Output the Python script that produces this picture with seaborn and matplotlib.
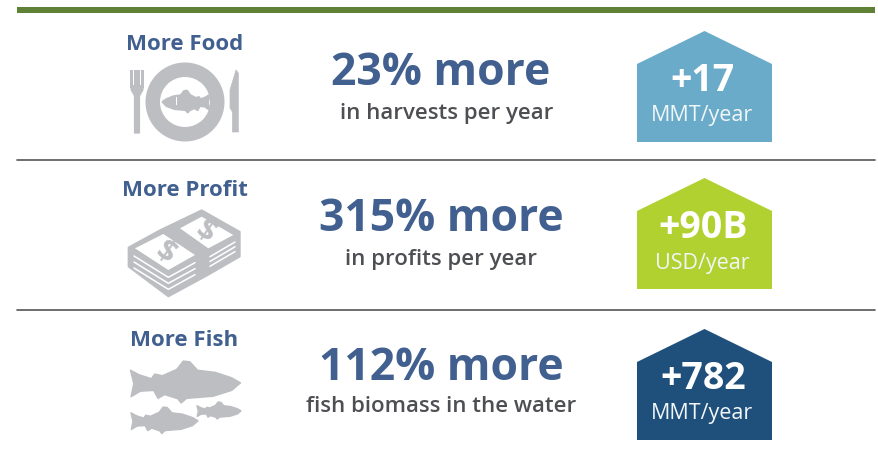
import matplotlib
matplotlib.use("Agg")
import matplotlib.pyplot as plt
from matplotlib.patches import Polygon, Circle, FancyBboxPatch
import numpy as np
import pandas as pd
import seaborn as sns

sns.set_theme(style="white")
plt.rcParams['font.family'] = ['Open Sans', 'DejaVu Sans']

# Chart content
titles = ["More Food", "More Profit", "More Fish"]
headlines = ["23% more", "315% more", "112% more"]
subtitles = ["in harvests per year", "in profits per year", "fish biomass in the water"]
badge_values = ["+17", "+90B", "+782"]
badge_units = ["MMT/year", "USD/year", "MMT/year"]
badge_colors = ["#69abc9", "#b0d12f", "#1f507c"]

# Layout, in pixels of the 879x457 picture
title_y = [44, 191, 340]
headline_y = [73.5, 219.5, 368.5]
subtitle_y = [113, 260, 407]
subtitle_x = [447, 441, 441]
badge_top = [31, 178, 329]
rule_y = [160, 310]

BLUE = "#41608f"
GREY = "#bcbec2"
TEXT = "#4d4f53"

fig = plt.figure(figsize=(8.79, 4.57), dpi=100)
ax = fig.add_axes([0, 0, 1, 1])


def draw_badge(top, color, value, unit):
    """House shaped badge with the value and its unit"""
    left, right = 637, 772
    pts = [(left, top + 33), ((left + right) / 2, top), (right, top + 33),
           (right, top + 111), (left, top + 111)]
    ax.add_patch(Polygon(pts, closed=True, facecolor=color, edgecolor="none"))
    ax.text(703, top + 50, value, color="white", fontsize=27, fontweight="bold",
            ha="center", va="center")
    ax.text(702, top + 85, unit, color="#f1f6f8", fontsize=15.5, ha="center", va="center")


def draw_food():
    # fork
    ax.add_patch(FancyBboxPatch((134.5, 90), 5, 43, boxstyle="round,pad=0.6", fc=GREY, ec="none"))
    for x in [130.5, 134, 137.5, 141]:
        ax.add_patch(Polygon([(x, 70), (x + 2.6, 70), (x + 2.6, 88), (x, 88)], fc=GREY, ec="none"))
    ax.add_patch(Polygon([(130.5, 85), (143.6, 85), (143.6, 90), (139.5, 97), (134.5, 97), (130.5, 90)],
                         fc=GREY, ec="none"))
    # plate
    ax.add_patch(Circle((185, 102), 39.5, fc=GREY, ec="none"))
    ax.add_patch(Circle((185, 102), 25, fc="white", ec="none"))
    draw_fish(163, 209, 91, 112, flip=True, fat=True)
    ax.add_patch(Polygon([(176, 97), (177, 97), (177, 105), (176, 105)], fc="white", ec="none"))
    # knife
    ax.add_patch(Polygon([(236, 70), (238.3, 73), (238.3, 132), (232.5, 132), (232.5, 112),
                          (230, 108), (230, 90)], fc=GREY, ec=GREY, lw=0.5, joinstyle="round"))


def draw_money():
    def to_px(pts):
        return [(100 + x / 3, 160 + y / 3) for x, y in pts]

    outline = [(85, 262), (180, 210), (305, 150), (420, 215), (420, 290), (325, 345),
               (205, 410), (85, 320)]
    ax.add_patch(Polygon(to_px(outline), fc=GREY, ec=GREY, lw=1, joinstyle="round"))
    ax.add_patch(Polygon(to_px([(105, 265), (190, 222), (285, 285), (205, 330)]), fc="white", ec="none"))
    ax.add_patch(Polygon(to_px([(240, 205), (305, 170), (400, 225), (325, 265)]), fc="white", ec="none"))
    # note edges along the sides of the stack
    for off in [0, 18, 36]:
        ax.plot(*zip(*to_px([(102, 288 + off), (205, 352 + off), (285, 308 + off)])),
                color="white", lw=1.1)
        ax.plot(*zip(*to_px([(330, 290 + off * 0.8), (405, 246 + off * 0.8)])),
                color="white", lw=1.1)
    ax.text(165.5, 253, "$", color=GREY, fontsize=22, fontweight="bold", rotation=-35,
            ha="center", va="center")
    ax.text(206, 232, "$", color=GREY, fontsize=22, fontweight="bold", rotation=-35,
            ha="center", va="center")


# fish outline on a unit box, tail on the left
FISH_X = np.array([0, .08, .19, .22, .29, .42, .48, .54, .61, .77, .92, 1, .92, .75, .51,
                   .46, .43, .31, .25, .21, .09, .005, .03])
FISH_Y = np.array([.22, .33, .42, .31, .35, .20, 0, .02, .22, .27, .40, .52, .70, .84, .89,
                   1, .90, .80, .89, .70, .72, .85, .54])


def draw_fish(x0, x1, y0, y1, flip=False, fat=False):
    xs = x0 + FISH_X * (x1 - x0)
    if flip:
        xs = x1 - FISH_X * (x1 - x0)
    ys = y0 + FISH_Y * (y1 - y0)
    lw = 2.0 if fat else 1.0
    ax.add_patch(Polygon(np.column_stack([xs, ys]), fc=GREY, ec=GREY, lw=lw, joinstyle="round"))


def draw_school():
    draw_fish(130.5, 240.5, 361, 403)
    draw_fish(131, 198, 407, 433.5)
    draw_fish(197, 241, 402, 419)


# Top band and row rules
ax.fill_between([17, 875], 7, 13, color="#5f8136", lw=0)
rules = pd.DataFrame({"x": [17, 875] * len(rule_y),
                      "y": [y for y in rule_y for _ in (0, 1)],
                      "row": [i for i in range(len(rule_y)) for _ in (0, 1)]})
sns.lineplot(data=rules, x="x", y="y", units="row", estimator=None, color="#555555",
             linewidth=1.2, ax=ax, legend=False)

for i in range(3):
    ax.text(184.5, title_y[i], titles[i], color=BLUE, fontsize=16, fontweight="bold",
            ha="center", va="center")
    ax.text(441, headline_y[i], headlines[i], color=BLUE, fontsize=32, fontweight="bold",
            ha="center", va="center")
    ax.text(subtitle_x[i], subtitle_y[i], subtitles[i], color=TEXT, fontsize=16,
            fontweight="semibold", ha="center", va="center")
    draw_badge(badge_top[i], badge_colors[i], badge_values[i], badge_units[i])

draw_food()
draw_money()
draw_school()

ax.set_xlim(0, 879)
ax.set_ylim(457, 0)
ax.set_xlabel("")
ax.set_ylabel("")
ax.axis("off")

fig.savefig("out.png", dpi=100, facecolor="white")
